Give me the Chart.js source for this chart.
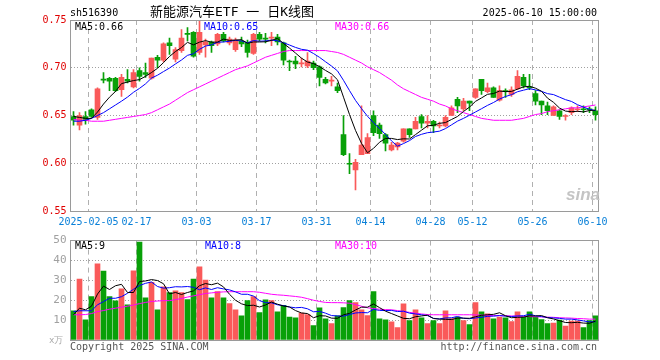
<!DOCTYPE html>
<html>
<head>
<meta charset="utf-8">
<script src="https://cdn.jsdelivr.net/npm/chart.js@4.4.0/dist/chart.umd.min.js"></script>
<style>
  body { margin: 0; background: #fff; }
  #wrap { position: relative; width: 660px; height: 360px; overflow: hidden; }
  canvas { position: absolute; left: 0; }
  .t { position: absolute; font: 10px/10px "DejaVu Sans Mono", monospace; white-space: pre; }
</style>
</head>
<body>
<div id="wrap">
  <canvas id="kline" width="660" height="232" style="top:0"></canvas>
  <canvas id="vol" width="660" height="130" style="top:230px"></canvas>

  <div class="t" style="left:70px;top:8px;color:#000">sh516390</div>
  <div class="t" style="left:150px;top:5px;font:13px/13px 'DejaVu Sans Mono','Noto Sans CJK SC';color:#000">新能源汽车ETF 一 日K线图</div>
  <div class="t" style="right:63px;top:8px;color:#000">2025-06-10 15:00:00</div>

  <div class="t" style="left:75px;top:22px;color:#000">MA5:0.66</div>
  <div class="t" style="left:204px;top:22px;color:#0000ff">MA10:0.65</div>
  <div class="t" style="left:335px;top:22px;color:#ff00ff">MA30:0.66</div>

  <div class="t" style="left:75px;top:241px;color:#000">MA5:9</div>
  <div class="t" style="left:205px;top:241px;color:#0000ff">MA10:8</div>
  <div class="t" style="left:335px;top:241px;color:#ff00ff">MA30:10</div>

  <div class="t" style="left:49px;top:335px;color:#aaa;font-size:9px">x万</div>
  <div class="t" style="left:70px;top:342px;color:#555">Copyright 2025 SINA.COM</div>
  <div class="t" style="right:63px;top:342px;color:#555">http://finance.sina.com.cn</div>
  <div class="t" style="left:566px;top:186px;font:italic bold 17px/17px 'Liberation Sans';color:#c4c4c4">sina</div>
</div>

<script>
// trading days shown on the chart
const dates = [
  '01-23','01-24','01-27','02-05','02-06','02-07','02-10','02-11','02-12','02-13',
  '02-14','02-17','02-18','02-19','02-20','02-21','02-24','02-25','02-26','02-27',
  '02-28','03-03','03-04','03-05','03-06','03-07','03-10','03-11','03-12','03-13',
  '03-14','03-17','03-18','03-19','03-20','03-21','03-24','03-25','03-26','03-27',
  '03-28','03-31','04-01','04-02','04-03','04-07','04-08','04-09','04-10','04-11',
  '04-14','04-15','04-16','04-17','04-18','04-21','04-22','04-23','04-24','04-25',
  '04-28','04-29','04-30','05-06','05-07','05-08','05-09','05-12','05-13','05-14',
  '05-15','05-16','05-19','05-20','05-21','05-22','05-23','05-26','05-27','05-28',
  '05-29','05-30','06-03','06-04','06-05','06-06','06-09','06-10'
];
const tickLabels = ['2025-02-05','02-17','03-03','03-17','03-31','04-14','04-28','05-12','05-26','06-10'];

const openP = [
  .649,.640,.649,.656,.648,.688,.689,.689,.677,.688,
  .680,.697,.695,.689,.711,.708,.726,.709,.718,.736,
  .737,.716,.724,.727,.725,.735,.726,.719,.728,.726,
  .715,.735,.731,.731,.732,.726,.707,.707,.704,.702,
  .705,.701,.688,.686,.680,.630,.600,.593,.609,.610,
  .650,.640,.630,.614,.617,.623,.636,.636,.649,.642,
  .644,.639,.639,.650,.667,.657,.665,.669,.688,.675,
  .679,.666,.676,.672,.678,.690,.680,.673,.665,.660,
  .650,.655,.649,.653,.656,.657,.657,.655
];
const highP = [
  .654,.653,.654,.657,.679,.695,.690,.690,.693,.698,
  .698,.700,.705,.710,.713,.726,.731,.721,.740,.742,
  .738,.750,.730,.728,.736,.737,.732,.731,.732,.729,
  .736,.737,.736,.737,.735,.727,.708,.712,.710,.716,
  .707,.702,.690,.691,.684,.650,.610,.604,.660,.631,
  .655,.642,.631,.622,.622,.636,.636,.648,.651,.650,
  .645,.643,.650,.660,.669,.668,.665,.678,.688,.684,
  .680,.681,.678,.680,.697,.693,.693,.676,.665,.664,
  .660,.656,.651,.659,.660,.660,.659,.659
];
const lowP = [
  .640,.635,.641,.648,.646,.684,.676,.675,.670,.684,
  .679,.686,.690,.688,.700,.706,.714,.706,.716,.728,
  .711,.714,.711,.716,.723,.727,.724,.717,.722,.711,
  .714,.728,.726,.723,.724,.703,.697,.699,.701,.700,
  .698,.681,.683,.681,.674,.608,.589,.572,.609,.610,
  .629,.626,.613,.613,.614,.622,.627,.636,.637,.637,
  .632,.637,.638,.650,.653,.655,.655,.668,.672,.674,
  .669,.665,.669,.670,.677,.679,.677,.661,.651,.651,
  .650,.646,.645,.651,.654,.653,.653,.645
];
const closeP = [
  .645,.650,.646,.649,.678,.687,.686,.676,.690,.686,
  .695,.691,.693,.710,.708,.725,.723,.719,.731,.735,
  .712,.737,.727,.723,.735,.728,.730,.729,.725,.716,
  .735,.730,.730,.732,.727,.708,.706,.704,.705,.707,
  .700,.690,.684,.687,.676,.609,.599,.601,.619,.627,
  .632,.631,.621,.619,.621,.636,.630,.644,.642,.644,
  .639,.640,.648,.658,.660,.665,.663,.678,.676,.679,
  .669,.676,.675,.677,.691,.681,.679,.665,.661,.655,
  .659,.649,.649,.658,.657,.656,.656,.651
];

// moving average lines
const ma5 = [
  .649,.648,.647,.647,.6536,.662,.6692,.6752,.6834,.685,
  .6866,.6876,.691,.695,.6994,.7054,.7118,.717,.7212,.7266,
  .724,.7268,.7284,.7268,.7268,.730,.7286,.729,.7294,.7256,
  .727,.727,.7272,.7286,.7308,.7254,.7206,.7154,.710,.706,
  .7044,.7012,.6972,.6936,.6874,.6692,.651,.6344,.6208,.611,
  .6156,.622,.626,.626,.6248,.6256,.6254,.630,.6346,.6392,
  .6398,.6418,.6426,.6458,.649,.6542,.6588,.6648,.6684,.6722,
  .673,.6756,.675,.6752,.6776,.680,.6806,.6786,.6754,.6682,
  .6638,.6578,.6546,.654,.6544,.6538,.6552,.6556
];
const ma10 = [
  .644,.644,.645,.647,.650,.653,.657,.661,.665,.6693,
  .6743,.6784,.6831,.6892,.6922,.696,.6997,.704,.7081,.713,
  .7147,.7193,.7227,.724,.7267,.727,.7277,.7287,.7281,.7262,
  .7285,.7278,.7281,.729,.7282,.7262,.7238,.7213,.7193,.7184,
  .7149,.7109,.7063,.7018,.6967,.6868,.6761,.6658,.6572,.6492,
  .6424,.6365,.6302,.6234,.6179,.6206,.6237,.628,.6303,.632,
  .6327,.6336,.6363,.6402,.6441,.647,.6503,.6537,.6571,.6606,
  .6636,.6672,.6699,.6718,.6749,.6765,.6781,.6768,.6753,.6729,
  .6719,.6692,.6666,.6647,.6613,.6588,.6565,.6551
];
const ma30 = [
  .646,.645,.645,.644,.644,.644,.645,.646,.647,.648,
  .649,.650,.651,.653,.656,.659,.662,.666,.670,.674,
  .677,.680,.683,.686,.689,.692,.695,.698,.700,.702,
  .705,.708,.711,.713,.715,.717,.718,.718,.718,.718,
  .718,.718,.718,.717,.716,.714,.711,.708,.705,.701,
  .698,.695,.691,.687,.682,.678,.675,.672,.669,.667,
  .665,.662,.660,.657,.655,.653,.651,.649,.647,.646,
  .645,.645,.645,.645,.646,.647,.649,.651,.652,.654,
  .655,.656,.657,.658,.658,.659,.660,.661
];

// volume (万手) and its averages
const volume = [
  14.7,30.7,10.2,21.8,38.3,34.7,21.8,19.7,25.7,17.7,
  34.8,49.3,21.2,29,15.2,26.8,23.8,24.7,23.8,20.3,
  30.7,36.8,30.2,21.2,24.3,21.2,18.3,15.2,12.2,19.8,
  21.8,13.8,20.2,19.8,14.2,17.5,11.5,11.2,13.5,12.8,
  7.2,16.2,10.7,8.2,12.2,16.3,19.8,18.8,15.2,12.3,
  24.3,10.7,10.2,9.2,6.3,18.2,9.8,15.2,11.2,8.2,
  9.8,8.2,14.7,10.8,11.5,9.8,7.7,18.8,14.2,13.2,
  10.7,11.5,11.2,9.3,14.2,11.5,14.2,11.5,10.3,8.3,
  8.5,10,7,9.5,9.5,6.3,9.8,12.2
];
const volMa5 = [
  12.7,16,15.2,17,23.1,27.1,25.4,27.3,28.0,23.9,
  23.9,29.4,29.7,30.4,29.9,28.3,23.2,23.9,22.9,23.9,
  24.7,27.3,28.4,27.8,28.6,26.7,23.0,20.0,18.2,17.3,
  17.5,16.6,17.6,19.1,18.0,17.1,16.6,14.8,13.6,13.3,
  11.2,12.2,12.1,11.0,10.9,12.7,13.4,15.1,16.5,16.5,
  18.1,16.3,14.5,13.3,12.1,10.9,10.7,11.7,12.1,12.5,
  10.8,10.5,10.4,10.3,11.0,11.0,10.9,11.7,12.4,12.7,
  12.9,13.7,12.2,11.2,11.4,11.5,12.1,12.1,12.3,11.2,
  10.6,9.7,8.8,8.7,8.9,8.5,8.4,9.5
];
const volMa10 = [
  14.3,14.7,14.7,14.7,17.7,19.3,21,21,21.8,23.5,
  25.5,27.4,28.5,29.2,26.9,26.1,26.3,26.8,26.7,26.9,
  26.5,25.3,26.2,25.4,26.3,25.7,25.2,24.2,23.0,23.0,
  22.1,19.8,18.8,18.7,17.7,17.3,16.6,16.2,16.4,15.7,
  14.2,14.4,13.5,12.3,12.1,12.0,12.8,13.6,13.8,13.7,
  15.4,14.9,14.8,14.9,14.3,14.5,13.5,13.1,12.7,12.3,
  10.9,10.6,11.1,11.2,11.8,10.9,10.7,11.1,11.4,11.9,
  12.0,12.3,12.0,11.8,12.1,12.2,12.9,12.2,11.8,11.3,
  11.1,10.9,10.5,10.5,10.1,9.6,9.1,9.2
];
const volMa30 = [
  12.7,12.7,12.8,13.3,14.3,14.8,15.5,16,16.5,17,
  17.6,18.3,18.9,19.4,19.6,19.8,19.8,20.3,20.9,21.6,
  22.2,22.8,23.4,23.7,24,24.2,24.3,24.3,24.3,24.3,
  24.3,24,23.5,23,22.7,22.5,22.2,21.9,21.5,20.8,
  20,19.4,18.9,18.8,18.8,18.7,18.5,17.8,17,16.2,
  15.8,15.5,15.3,15.2,14.8,14.3,13.9,13.5,13.1,12.8,
  12.7,12.7,12.7,12.7,12.7,12.7,12.7,12.6,12.5,12.4,
  12.3,12.3,12.2,12.1,12,11.9,11.8,11.7,11.6,11.5,
  11.4,11.2,11.1,11,10.8,10.7,10.5,10.5
];

const RED = '#fa5a5a';
const GREEN = '#08a008';
const candleColors = closeP.map((c, i) => c >= openP[i] ? RED : GREEN);
const monoFont = { family: 'DejaVu Sans Mono', size: 10 };

function tickText(i) {
  const lbl = tickLabels.find(t => t.endsWith(dates[i]));
  return lbl || '';
}

// grey frame round the plot area
const framePlugin = {
  id: 'frame',
  afterDraw(chart) {
    const { ctx, chartArea: a } = chart;
    const x = Math.floor(a.left) + 0.5, y = Math.floor(a.top) + 0.5;
    ctx.save();
    ctx.strokeStyle = '#9a9a9a';
    ctx.lineWidth = 1;
    ctx.strokeRect(x, y, Math.floor(a.right) - Math.floor(a.left), Math.floor(a.bottom) - Math.floor(a.top));
    ctx.restore();
  }
};

function xScale(showLabels, height) {
  return {
    offset: true,
    grid: {
      offset: true,
      drawTicks: false,
      lineWidth: 1,
      color: ctx => (ctx.index !== undefined && ctx.index < dates.length && tickText(ctx.index)) ? '#b0b0b0' : 'transparent'
    },
    border: { display: false, dash: [5, 4] },
    ticks: {
      display: showLabels,
      autoSkip: false,
      maxRotation: 0,
      minRotation: 0,
      padding: 5,
      labelOffset: -3,
      color: '#0a80d8',
      font: monoFont,
      callback: (v, i) => tickText(i)
    },
    afterFit: s => { s.height = height; }
  };
}

function maLine(label, data, color) {
  return { type: 'line', label, data, borderColor: color, borderWidth: 1, pointRadius: 0, tension: 0, order: 0 };
}

// price panel
new Chart(document.getElementById('kline'), {
  type: 'bar',
  data: {
    labels: dates,
    datasets: [
      maLine('MA5', ma5, '#000000'),
      maLine('MA10', ma10, '#0000ff'),
      maLine('MA30', ma30, '#ff00ff'),
      {
        label: 'wick',
        data: lowP.map((l, i) => [l, highP[i]]),
        backgroundColor: candleColors,
        barThickness: 1,
        grouped: false,
        order: 2
      },
      {
        label: 'body',
        data: openP.map((o, i) => [o, closeP[i]]),
        backgroundColor: candleColors,
        barThickness: 5,
        minBarLength: 1,
        grouped: false,
        order: 1
      }
    ]
  },
  options: {
    responsive: false,
    animation: false,
    layout: { padding: { top: 20, right: 61.5, left: 0, bottom: 0 } },
    plugins: { legend: { display: false }, tooltip: { enabled: false } },
    scales: {
      x: xScale(true, 21),
      y: {
        min: 0.55,
        max: 0.75,
        ticks: {
          stepSize: 0.05,
          padding: 4,
          color: '#e00000',
          font: monoFont,
          callback: v => v.toFixed(2)
        },
        grid: {
          drawTicks: false,
          color: ctx => (ctx.tick && ctx.tick.value > 0.56 && ctx.tick.value < 0.74) ? '#a0a0a0' : 'transparent'
        },
        border: { display: false, dash: [1, 2] },
        afterFit: s => { s.width = 70.5; }
      }
    }
  },
  plugins: [framePlugin]
});

// volume panel
new Chart(document.getElementById('vol'), {
  type: 'bar',
  data: {
    labels: dates,
    datasets: [
      maLine('MA5', volMa5, '#000000'),
      maLine('MA10', volMa10, '#0000ff'),
      maLine('MA30', volMa30, '#ff00ff'),
      {
        label: 'volume',
        data: volume,
        backgroundColor: candleColors,
        barThickness: 5,
        order: 1
      }
    ]
  },
  options: {
    responsive: false,
    animation: false,
    layout: { padding: { top: 10, right: 61.5, left: 0, bottom: 0 } },
    plugins: { legend: { display: false }, tooltip: { enabled: false } },
    scales: {
      x: xScale(false, 20),
      y: {
        min: 0,
        max: 50,
        ticks: {
          stepSize: 10,
          padding: 4,
          color: '#a0a0a0',
          font: { family: 'DejaVu Sans Mono', size: 11 },
          callback: v => v === 0 ? '' : v
        },
        grid: {
          drawTicks: false,
          color: ctx => (ctx.tick && ctx.tick.value > 0 && ctx.tick.value < 50) ? '#a0a0a0' : 'transparent'
        },
        border: { display: false, dash: [1, 2] },
        afterFit: s => { s.width = 70.5; }
      }
    }
  },
  plugins: [framePlugin]
});
</script>
</body>
</html>
